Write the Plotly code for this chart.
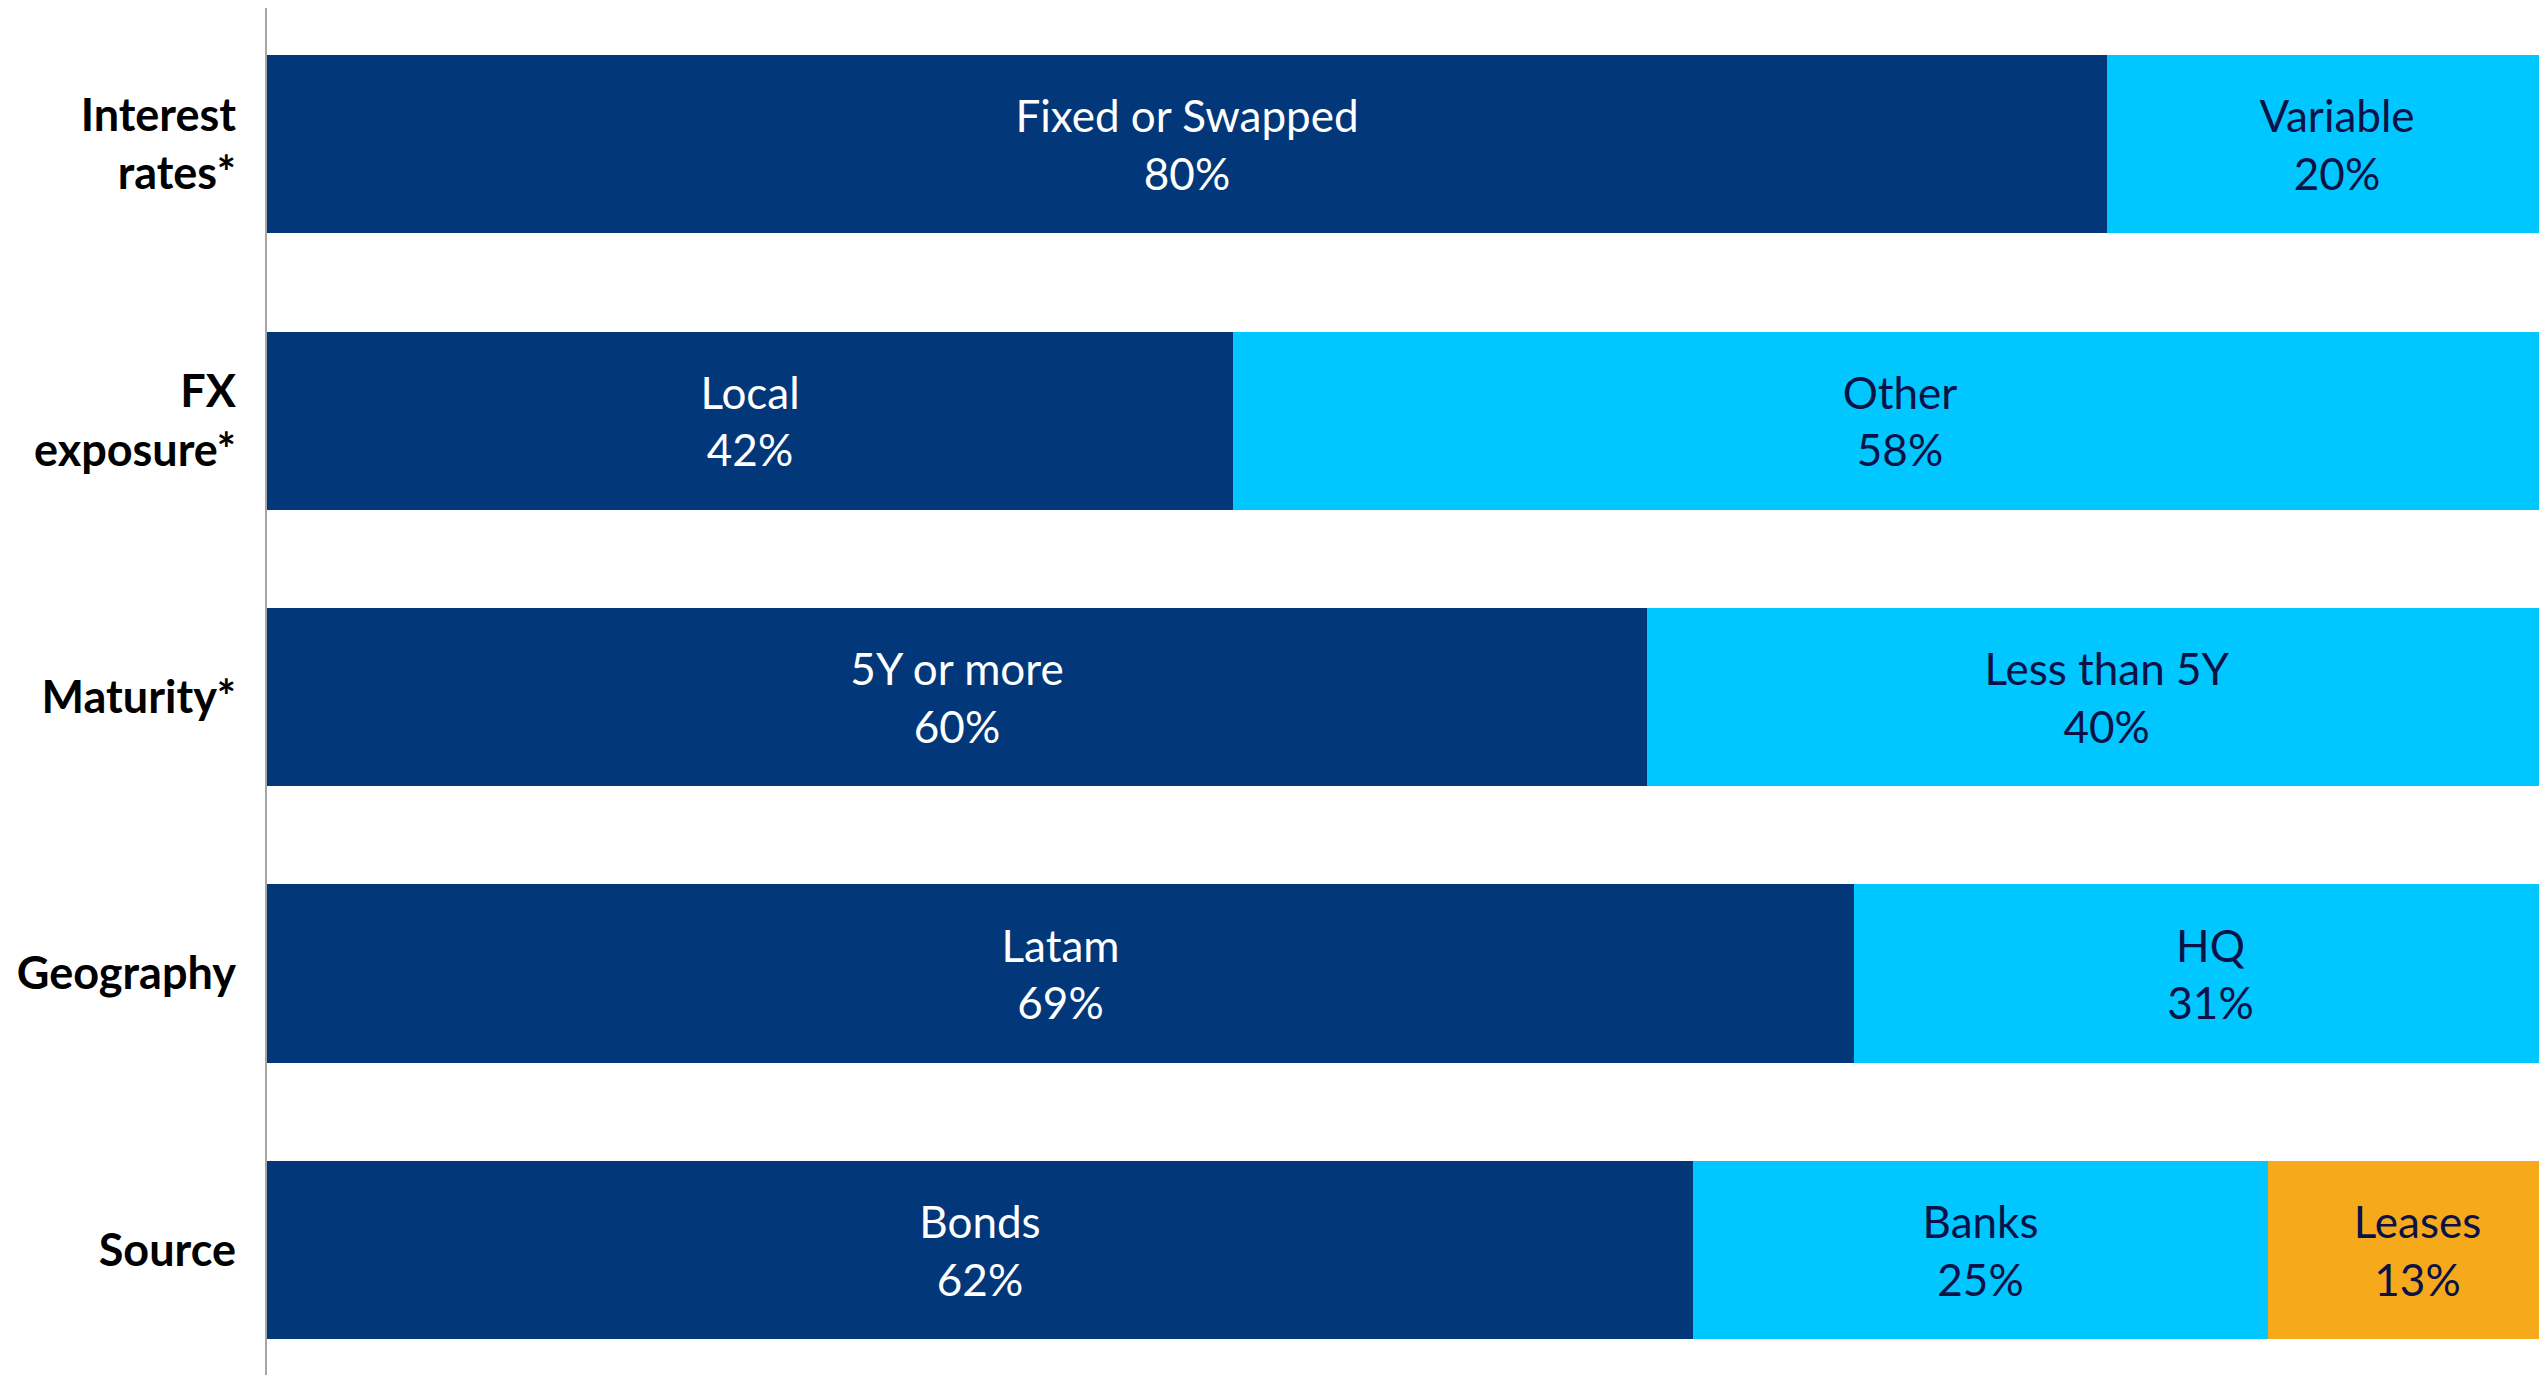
import plotly.graph_objects as go

categories = ["Interest<br>rates*", "FX<br>exposure*", "Maturity*", "Geography", "Source"]

primary_labels = ["Fixed or Swapped", "Local", "5Y or more", "Latam", "Bonds"]
primary_values = [80, 42, 60, 69, 62]

secondary_labels = ["Variable", "Other", "Less than 5Y", "HQ", "Banks"]
secondary_values = [20, 58, 40, 31, 25]

tertiary_labels = [None, None, None, None, "Leases"]
tertiary_values = [None, None, None, None, 13]

DARK = "#02387A"
CYAN = "#00C7FF"
ORANGE = "#F6A91B"
NAVY_TEXT = "#0B1247"
FONT = "Lato, 'Open Sans', sans-serif"


def make_text(labels, values):
    out = []
    for lab, val in zip(labels, values):
        if lab is None or val is None:
            out.append("")
        else:
            out.append(f"{lab}<br>{val}%")
    return out


series = [
    (primary_labels, primary_values, DARK, "white"),
    (secondary_labels, secondary_values, CYAN, NAVY_TEXT),
    (tertiary_labels, tertiary_values, ORANGE, NAVY_TEXT),
]

fig = go.Figure()
for labels, values, color, tcolor in series:
    fig.add_trace(go.Bar(
        y=categories,
        x=values,
        orientation="h",
        marker=dict(color=color, line=dict(width=0)),
        width=0.644,
        text=make_text(labels, values),
        textposition="inside",
        insidetextanchor="middle",
        textangle=0,
        textfont=dict(family=FONT, size=44, color=tcolor),
        hoverinfo="skip",
        cliponaxis=True,
    ))

fig.update_layout(
    barmode="stack",
    width=2539,
    height=1367,
    margin=dict(l=259, r=0, t=0, b=0, pad=0),
    paper_bgcolor="white",
    plot_bgcolor="white",
    showlegend=False,
    uniformtext=dict(minsize=44, mode="show"),
    font=dict(family=FONT, color="black"),
    xaxis=dict(
        range=[0, 99.13],
        visible=False,
        showgrid=False,
        zeroline=False,
    ),
    yaxis=dict(
        range=[4.452, -0.492],
        showgrid=False,
        zeroline=False,
        showline=True,
        linecolor="#A6A6A6",
        linewidth=2,
        ticks="outside",
        ticklen=20,
        tickcolor="rgba(0,0,0,0)",
        tickfont=dict(family=FONT, size=45, color="black", weight="bold"),
    ),
)

fig.write_html("out.html")
